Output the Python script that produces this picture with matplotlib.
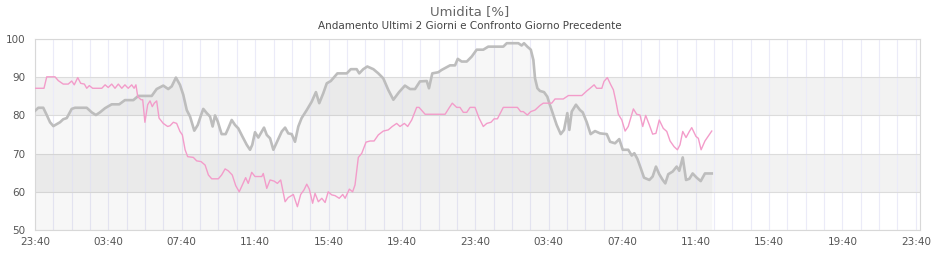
import matplotlib
matplotlib.use("Agg")
import matplotlib.pyplot as plt
from matplotlib.ticker import MultipleLocator

# hours since 23:40 of the first day
gray_hours = [0.0, 0.18, 0.45, 0.64, 0.82, 1.00, 1.18, 1.36, 1.54, 1.73, 2.00, 2.18, 2.82, 3.09, 3.32, 3.54,
              3.82, 4.18, 4.59, 4.90, 5.36, 5.63, 6.36, 6.63, 6.99, 7.26, 7.45, 7.68, 7.90, 8.08, 8.27, 8.45,
              8.68, 8.87, 9.05, 9.17, 9.36, 9.54, 9.68, 9.81, 9.96, 10.17, 10.39, 10.53, 10.72, 10.90, 11.08,
              11.30, 11.54, 11.72, 11.84, 11.99, 12.17, 12.36, 12.48, 12.63, 12.81, 12.99, 13.21, 13.45, 13.63,
              13.80, 13.99, 14.17, 14.35, 14.53, 14.81, 15.08, 15.31, 15.49, 15.71, 15.90, 16.12, 16.30, 16.48,
              16.99, 17.21, 17.53, 17.67, 17.89, 18.11, 18.44, 18.71, 18.98, 19.25, 19.53, 19.84, 20.16, 20.44,
              20.71, 20.98, 21.35, 21.47, 21.65, 21.98, 22.16, 22.35, 22.62, 22.89, 23.04, 23.25, 23.53, 23.80,
              24.07, 24.43, 24.70, 25.52, 25.71, 26.34, 26.52, 26.65, 26.83, 27.02, 27.16, 27.25, 27.38, 27.52,
              27.74, 27.92, 28.03, 28.25, 28.43, 28.65, 28.83, 29.01, 29.12, 29.25, 29.48, 29.70, 29.85, 30.07,
              30.28, 30.52, 30.79, 31.16, 31.34, 31.61, 31.84, 32.03, 32.33, 32.52, 32.66, 32.83, 33.01, 33.19,
              33.48, 33.66, 33.84, 34.02, 34.21, 34.35, 34.51, 34.75, 34.97, 35.11, 35.30, 35.48, 35.66, 35.84,
              36.06, 36.28, 36.51, 36.88]
gray_vals = [81.2, 82, 82, 80.1, 78.2, 77.2, 77.7, 78.2, 79, 79.3, 81.7, 82, 82, 80.8, 80.1, 80.8,
             81.9, 82.9, 82.9, 84, 84, 85.1, 85.1, 86.9, 87.8, 86.9, 87.6, 89.9, 88, 85.4, 81.4, 79.7,
             76, 77.5, 80.1, 81.7, 80.6, 79.7, 77.1, 80, 78.4, 75.1, 75.1, 76.6, 78.8, 77.5, 76.6,
             74.5, 72.3, 71, 72.3, 75.6, 74.2, 75.8, 76.8, 74.9, 74, 71, 73.3, 75.8, 76.8,
             75.3, 75.1, 73.1, 77.1, 79.3, 81.4, 83.6, 86.1, 83.2, 85.8, 88.4, 89, 90, 91,
             91, 92.1, 92.1, 91, 92.1, 92.8, 92.1, 91, 89.7, 86.7, 84.1, 86.1, 87.8, 86.9,
             86.9, 88.9, 89, 87.1, 91, 91.3, 91.9, 92.4, 93.1, 93.1, 94.8, 94.1, 94.1, 95.4,
             97.2, 97.2, 98, 98, 98.9, 98.9, 98.3, 98.9, 98, 97.2, 94.5, 89.7, 87.1, 86.4,
             86.1, 84.9, 83.2, 80.1, 77.5, 75.1, 76.2, 80.6, 76.2, 81, 82.8, 81.4, 80.8, 78.2,
             75.1, 75.9, 75.3, 75.1, 73.1, 72.7, 73.8, 71, 71, 69.5, 70.1, 68.6, 66.2, 63.7,
             63.1, 64, 66.6, 64.6, 63.1, 62.2, 64.6, 65.3, 66.6, 65.5, 69, 63.1, 63.4, 64.8,
             63.7, 62.8, 64.8, 64.8]

pink_hours = [0.0, 0.49, 0.64, 1.09, 1.27, 1.54, 1.81, 2.00, 2.14, 2.33, 2.49, 2.69, 2.82, 2.96, 3.14, 3.64,
              3.82, 3.99, 4.18, 4.36, 4.54, 4.73, 4.90, 5.08, 5.27, 5.40, 5.50, 5.60, 5.78, 5.87, 5.99, 6.14,
              6.27, 6.39, 6.50, 6.63, 6.76, 6.99, 7.23, 7.36, 7.54, 7.72, 7.90, 8.03, 8.18, 8.32, 8.63, 8.81,
              9.05, 9.27, 9.45, 9.63, 9.99, 10.17, 10.36, 10.53, 10.75, 10.94, 11.13, 11.32, 11.48, 11.62,
              11.81, 11.99, 12.36, 12.44, 12.63, 12.81, 13.03, 13.21, 13.39, 13.63, 13.80, 14.08, 14.30, 14.48,
              14.66, 14.81, 14.95, 15.13, 15.26, 15.44, 15.63, 15.81, 15.98, 16.17, 16.35, 16.58, 16.77, 16.90,
              17.13, 17.31, 17.44, 17.62, 17.81, 18.04, 18.26, 18.48, 18.71, 18.98, 19.25, 19.47, 19.71, 19.89,
              20.13, 20.31, 20.53, 20.80, 20.93, 21.26, 22.35, 22.56, 22.74, 22.98, 23.16, 23.34, 23.53, 23.71,
              23.98, 24.20, 24.43, 24.62, 24.85, 25.02, 25.20, 25.52, 26.29, 26.47, 26.61, 26.83, 27.02, 27.25,
              27.52, 27.70, 28.16, 28.34, 28.79, 29.07, 29.80, 30.07, 30.25, 30.47, 30.61, 30.89, 31.01, 31.19,
              31.38, 31.52, 31.66, 31.79, 31.98, 32.16, 32.33, 32.61, 32.79, 32.97, 33.12, 33.28, 33.48, 33.66,
              33.84, 34.02, 34.24, 34.43, 34.61, 34.83, 35.01, 35.15, 35.30, 35.48, 35.66, 35.79, 36.02, 36.15,
              36.30, 36.51, 36.88]
pink_vals = [87.1, 87.1, 90.1, 90.1, 89.1, 88.2, 88.2, 89, 88, 89.9, 88.4, 88.2, 87.1, 87.8, 87.1, 87.1,
             88, 87.3, 88.2, 87.1, 88.2, 87.1, 88, 87.1, 88, 87.1, 88, 84.9, 84.1, 84.1, 78.2, 82.8,
             83.8, 82.3, 83.2, 83.8, 79.3, 77.9, 77.1, 77.3, 78.2, 77.9, 75.8, 74.9, 71, 69.2, 69, 68.1,
             67.9, 67, 64.4, 63.4, 63.4, 64.4, 66, 65.5, 64.4, 61.6, 60, 62, 63.7, 62.2,
             65.1, 64, 64, 64.8, 60.9, 63.1, 62.8, 62.2, 63.1, 57.4, 58.5, 59.3, 56.1, 59.3,
             60.5, 62, 60.7, 57, 59.6, 57.4, 58.3, 57.2, 60, 59.2, 59, 58.3, 59.3, 58.3,
             60.7, 60, 61.8, 69, 70.1, 73, 73.3, 73.3, 74.9, 75.9, 76.2, 77.1, 77.9, 77.1,
             77.9, 77.1, 78.8, 82.1, 82.1, 80.3, 80.3, 81.9, 83.2, 82.1, 82.1, 80.8, 80.8, 82.1,
             82.1, 79.3, 77.1, 77.9, 78.2, 79.1, 79.1, 82.1, 82.1, 81, 81, 80.1, 81, 81.4,
             82.6, 83.2, 83.2, 84.3, 84.3, 85.2, 85.2, 86.4, 87.1, 88, 87.1, 87.1, 88.9, 89.9,
             88, 86.7, 83.6, 80.3, 78.8, 75.9, 77.1, 81.7, 80.3, 80.1, 77.1, 80, 77.5, 75.1,
             75.3, 78.8, 76.6, 75.8, 73.3, 71.8, 71, 72.3, 75.8, 74.2, 75.8, 76.8, 74.5, 74,
             71, 73.3, 75.9]

tick_hours = [0, 4, 8, 12, 16, 20, 24, 28, 32, 36, 40, 44, 48]
tick_labels = ["23:40", "03:40", "07:40", "11:40", "15:40", "19:40",
               "23:40", "03:40", "07:40", "11:40", "15:40", "19:40", "23:40"]

fig = plt.figure(figsize=(9.4, 2.6), dpi=100)
ax = fig.add_axes([35 / 940, 30 / 260, 885 / 940, 191 / 260])

# alternating bands + grid
for lo, hi in [(60, 70), (80, 90)]:
    ax.axhspan(lo, hi, color="#f2f2f2", lw=0, zorder=0)
ax.set_axisbelow(True)
ax.xaxis.set_minor_locator(MultipleLocator(1))
ax.grid(True, axis="x", which="both", color="#ebebf8", lw=0.8)
ax.grid(True, axis="y", color="#dcdcdc", lw=0.8)

# today (area) and previous day
ax.fill_between(gray_hours, gray_vals, 50, color="black", alpha=0.03, lw=0, zorder=2)
ax.plot(gray_hours, gray_vals, color="#bdbdbd", lw=1.9, zorder=3)
ax.plot(pink_hours, pink_vals, color="#f39cca", lw=1.0, zorder=4)

ax.set_xlim(0, 48.23)
ax.set_ylim(50, 100)
ax.set_xticks(tick_hours)
ax.set_xticklabels(tick_labels)
ax.set_yticks([50, 60, 70, 80, 90, 100])
ax.tick_params(axis="both", which="both", length=0, labelsize=7.5, colors="#555555")
ax.tick_params(axis="y", pad=7)
ax.tick_params(axis="x", pad=5)
for s in ax.spines.values():
    s.set_color("#d8d8d8")
    s.set_linewidth(0.8)

fig.text(0.5, 1 - 12 / 260, "Umidita [%]", ha="center", va="center", fontsize=9.5, color="#666666")
fig.text(0.5, 1 - 26 / 260, "Andamento Ultimi 2 Giorni e Confronto Giorno Precedente",
         ha="center", va="center", fontsize=7.5, color="#444444")

fig.savefig("out.png", dpi=100)
